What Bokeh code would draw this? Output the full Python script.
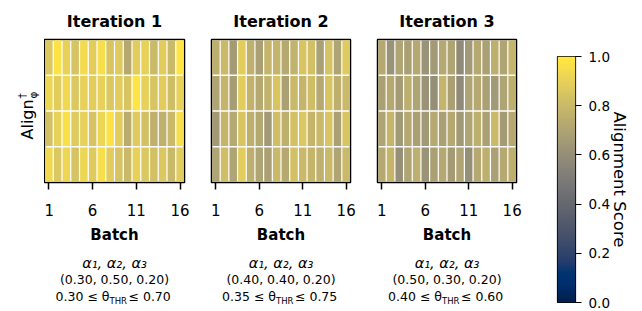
import math
import numpy as np
from bokeh.plotting import figure
from bokeh.layouts import row, column
from bokeh.models import (ColumnDataSource, LinearColorMapper, Label, FixedTicker,
                          Range1d, PrintfTickFormatter)
from bokeh.palettes import Cividis256
from bokeh.transform import linear_cmap
from bokeh.embed import file_html
from bokeh.resources import INLINE

FONT = "DejaVu Sans"

# ---------------- data ----------------
batches = list(range(1, 17))
row_ids = [1, 2, 3, 4]
batch_ticks = [1, 6, 11, 16]
titles = ["Iteration 1", "Iteration 2", "Iteration 3"]
alpha_header = "α₁, α₂, α₃"
alpha_weights = ["(0.30, 0.50, 0.20)", "(0.40, 0.40, 0.20)", "(0.50, 0.30, 0.20)"]
theta_low = ["0.30", "0.35", "0.40"]
theta_high = ["0.70", "0.75", "0.60"]
cbar_ticks = [0.0, 0.2, 0.4, 0.6, 0.8, 1.0]

iter1 = [
    [0.86, 0.97, 0.90, 0.84, 0.94, 0.88, 0.95, 0.85, 0.87, 0.72, 0.88, 0.90, 0.80, 0.88, 0.80, 0.98],
    [0.92, 0.88, 0.93, 0.86, 0.90, 0.88, 0.90, 0.86, 0.88, 0.85, 0.98, 0.90, 0.85, 0.88, 0.82, 0.90],
    [0.83, 0.90, 0.96, 0.87, 0.90, 0.84, 0.92, 0.97, 0.88, 0.74, 0.87, 0.83, 0.76, 0.76, 0.80, 0.95],
    [0.93, 0.86, 0.92, 0.84, 0.92, 0.87, 0.95, 0.88, 0.84, 0.80, 0.90, 0.86, 0.83, 0.86, 0.80, 0.88],
]
iter2 = [
    [0.75, 0.80, 0.66, 0.88, 0.76, 0.68, 0.78, 0.78, 0.72, 0.77, 0.85, 0.83, 0.68, 0.84, 0.70, 0.87],
    [0.70, 0.78, 0.67, 0.88, 0.77, 0.72, 0.77, 0.85, 0.68, 0.80, 0.78, 0.82, 0.72, 0.85, 0.75, 0.80],
    [0.65, 0.78, 0.72, 0.85, 0.75, 0.72, 0.65, 0.82, 0.75, 0.83, 0.86, 0.78, 0.80, 0.85, 0.68, 0.85],
    [0.70, 0.82, 0.70, 0.88, 0.75, 0.70, 0.68, 0.80, 0.72, 0.83, 0.80, 0.78, 0.76, 0.80, 0.70, 0.80],
]
iter3 = [
    [0.72, 0.62, 0.70, 0.68, 0.72, 0.62, 0.65, 0.72, 0.70, 0.58, 0.65, 0.72, 0.68, 0.75, 0.70, 0.78],
    [0.68, 0.72, 0.66, 0.75, 0.70, 0.62, 0.60, 0.78, 0.68, 0.58, 0.70, 0.72, 0.68, 0.65, 0.70, 0.75],
    [0.70, 0.78, 0.65, 0.72, 0.68, 0.65, 0.72, 0.68, 0.72, 0.65, 0.70, 0.75, 0.68, 0.80, 0.66, 0.72],
    [0.72, 0.78, 0.60, 0.70, 0.75, 0.62, 0.68, 0.72, 0.66, 0.70, 0.60, 0.72, 0.75, 0.68, 0.72, 0.75],
]
all_scores = [iter1, iter2, iter3]

# ---------------- layout constants ----------------
TOP = 37          # border above heatmap frames
FRAME_H = 145     # heatmap frame height
BOTTOM = 68       # border below heatmap frames (ticks + "Batch")
TOP_H = TOP + FRAME_H + BOTTOM
TOTAL_H = 311
CAP_H = TOTAL_H - TOP_H
YLAB_W = 44
# (left border, frame width, right border) per panel
PANELS = [(0, 140, 13), (14, 139, 13), (14, 139, 13)]


def style_fig(p):
    p.grid.visible = False
    p.background_fill_color = "white"
    p.border_fill_color = "white"


def make_panel(k):
    left, frame_w, right = PANELS[k]
    p = figure(width=left + frame_w + right, height=TOP_H,
               x_range=Range1d(0.5, 16.5), y_range=Range1d(4.5, 0.5),
               output_backend="svg", toolbar_location=None,
               min_border_left=left, min_border_right=right,
               min_border_top=TOP, min_border_bottom=BOTTOM,
               title=titles[k])
    xs, ys, vs = [], [], []
    for r, rowvals in enumerate(all_scores[k]):
        for c, v in enumerate(rowvals):
            xs.append(batches[c])
            ys.append(row_ids[r])
            vs.append(v)
    src = ColumnDataSource(dict(x=xs, y=ys, v=vs))
    p.rect(x="x", y="y", width=0.86, height=0.955, source=src,
           fill_color=linear_cmap("v", Cividis256, 0, 1), line_color=None)

    p.title.align = "center"
    p.title.text_font = FONT
    p.title.text_font_size = "16px"
    p.title.text_font_style = "bold"
    p.title.text_color = "black"
    p.title.standoff = 18

    style_fig(p)
    p.yaxis.visible = False
    p.outline_line_color = "black"
    p.outline_line_width = 1.5
    p.outline_line_alpha = 1.0

    ax = p.xaxis[0]
    ax.ticker = FixedTicker(ticks=batch_ticks)
    ax.axis_line_color = None
    ax.minor_tick_line_color = None
    ax.major_tick_in = 0
    ax.major_tick_out = 7
    ax.major_tick_line_color = "black"
    ax.major_tick_line_width = 1.5
    ax.major_label_standoff = 14
    ax.major_label_text_font = FONT
    ax.major_label_text_font_size = "15px"
    ax.major_label_text_color = "black"
    ax.axis_label = "Batch"
    ax.axis_label_text_font = FONT
    ax.axis_label_text_font_size = "15px"
    ax.axis_label_text_font_style = "bold"
    ax.axis_label_text_color = "black"
    ax.axis_label_standoff = 7
    return p


# y-label figure (frame aligned with the heatmap frames)
ylab = figure(width=YLAB_W, height=TOP_H, x_range=Range1d(0, 1), y_range=Range1d(0, 1),
              output_backend="svg", toolbar_location=None,
              x_axis_location=None, y_axis_location=None,
              min_border_left=0, min_border_right=0,
              min_border_top=TOP, min_border_bottom=BOTTOM)
style_fig(ylab)
ylab.outline_line_color = None
ycommon = dict(x_units="screen", y_units="screen", text_font=FONT, text_color="black",
               text_baseline="middle", text_align="left", angle=math.pi / 2)
ylab.add_layout(Label(x=27, y=43, text="Align", text_font_size="16px", **ycommon))
ylab.add_layout(Label(x=21, y=84, text="†", text_font_size="10.5px", **ycommon))
ylab.add_layout(Label(x=32, y=84, text="φ", text_font_size="10.5px", **ycommon))

panels = [make_panel(k) for k in range(3)]

# caption figure below the panels
cap_w = YLAB_W + sum(l + w + r for l, w, r in PANELS)
cap = figure(width=cap_w, height=CAP_H, x_range=Range1d(0, 1), y_range=Range1d(0, 1),
             output_backend="svg", toolbar_location=None,
             x_axis_location=None, y_axis_location=None,
             min_border_left=0, min_border_right=0, min_border_top=0, min_border_bottom=0)
style_fig(cap)
cap.outline_line_color = None
common = dict(x_units="screen", y_units="screen", text_font=FONT,
              text_color="black", text_baseline="middle")
x0 = YLAB_W
for k, (l, w, r) in enumerate(PANELS):
    cx = x0 + l + w / 2.0
    x0 += l + w + r
    cap.add_layout(Label(x=cx, y=CAP_H - 12, text=alpha_header, text_align="center",
                         text_font_size="14.5px", text_font_style="italic", **common))
    cap.add_layout(Label(x=cx, y=CAP_H - 29, text=alpha_weights[k], text_align="center",
                         text_font_size="12.5px", **common))
    cap.add_layout(Label(x=cx - 5, y=CAP_H - 46, text=theta_low[k] + " ≤ θ", text_align="right",
                         text_font_size="12.5px", **common))
    cap.add_layout(Label(x=cx - 5, y=CAP_H - 50, text="THR", text_align="left",
                         text_font_size="8.5px", **common))
    cap.add_layout(Label(x=cx + 14, y=CAP_H - 46, text="≤ " + theta_high[k], text_align="left",
                         text_font_size="12.5px", **common))

# colour bar figure
cb = figure(width=642 - cap_w, height=TOTAL_H, x_range=Range1d(0, 1), y_range=Range1d(0, 1),
            output_backend="svg", toolbar_location=None,
            min_border_left=28, min_border_right=642 - cap_w - 28 - 18,
            min_border_top=56, min_border_bottom=9,
            x_axis_location=None, y_axis_location="right")
grad = np.linspace(0, 1, 256).reshape(256, 1)
cb.image(image=[grad], x=0, y=0, dw=1, dh=1,
         color_mapper=LinearColorMapper(palette=Cividis256, low=0, high=1))
style_fig(cb)
cb.outline_line_color = "black"
cb.outline_line_width = 1.2
cb.outline_line_alpha = 1.0
cax = cb.yaxis[0]
cax.ticker = FixedTicker(ticks=cbar_ticks)
cax.formatter = PrintfTickFormatter(format="%.1f")
cax.axis_line_color = None
cax.minor_tick_line_color = None
cax.major_tick_in = 0
cax.major_tick_out = 6
cax.major_tick_line_color = "black"
cax.major_tick_line_width = 1.2
cax.major_label_standoff = 7
cax.major_label_text_font = FONT
cax.major_label_text_font_size = "13.5px"
cax.major_label_text_color = "black"
cax.axis_label = "Alignment Score"
cax.axis_label_text_font = FONT
cax.axis_label_text_font_size = "16.5px"
cax.axis_label_text_font_style = "normal"
cax.axis_label_text_color = "black"
cax.axis_label_standoff = -3

left_block = column(row(ylab, *panels), cap)
layout = row(left_block, cb)
open("out.html", "w").write(file_html(layout, INLINE))
